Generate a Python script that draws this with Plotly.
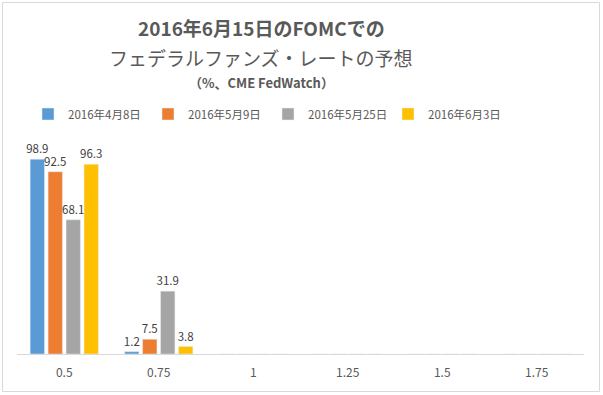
import plotly.graph_objects as go

categories = ["0.5", "0.75", "1", "1.25", "1.5", "1.75"]
series_names = ["2016年4月8日", "2016年5月9日", "2016年5月25日", "2016年6月3日"]
apr8 = [98.9, 1.2, 0, 0, 0, 0]
may9 = [92.5, 7.5, 0, 0, 0, 0]
may25 = [68.1, 31.9, 0, 0, 0, 0]
jun3 = [96.3, 3.8, 0, 0, 0, 0]
colors = ["#5B9BD5", "#ED7D31", "#A5A5A5", "#FFC000"]

FONT = "Noto Sans CJK JP, Noto Sans, sans-serif"

fig = go.Figure()
for name, vals, c in zip(series_names, [apr8, may9, may25, jun3], colors):
    fig.add_trace(go.Bar(
        x=categories, y=vals, name=name, marker_color=c,
        text=[f"{v:.1f}" if v > 0 else "" for v in vals],
        textposition="outside", cliponaxis=False, constraintext="none",
        textfont=dict(size=11.5, color="#404040", family=FONT),
    ))

W, H = 603, 395
L, R, T, B = 17, 19, 157, 41
pw, ph = W - L - R, H - T - B

def px_x(p):
    return (p - L) / pw

def px_y(p):
    return (H - B - p) / ph

fig.update_layout(
    width=W, height=H,
    margin=dict(l=L, r=R, t=T, b=B),
    paper_bgcolor="white", plot_bgcolor="white",
    font=dict(family=FONT, color="#595959"),
    barmode="group", bargap=0.24, bargroupgap=0.2,
    showlegend=True,
    legend=dict(orientation="h", x=px_x(28), xanchor="left", y=px_y(114), yanchor="middle",
                font=dict(size=11.5, color="#595959", family=FONT),
                itemwidth=30, traceorder="normal", entrywidth=75, entrywidthmode="pixels"),
    xaxis=dict(showline=True, linecolor="#D9D9D9", linewidth=1, ticks="",
               ticklabelstandoff=8,
               tickfont=dict(size=12, color="#595959"), showgrid=False),
    yaxis=dict(visible=False, range=[0, 100], showgrid=False),
)

TX = px_x(261)
fig.add_annotation(text="<b>2016年6月15日のFOMCでの</b>", xref="paper", yref="paper",
                   x=TX, y=px_y(28), xanchor="center", yanchor="middle", showarrow=False,
                   font=dict(size=19, color="#595959", family=FONT))
fig.add_annotation(text="フェデラルファンズ・レートの予想", xref="paper", yref="paper",
                   x=TX, y=px_y(57), xanchor="center", yanchor="middle", showarrow=False,
                   font=dict(size=19, color="#595959", family=FONT))
fig.add_annotation(text="<b>（%、CME FedWatch）</b>", xref="paper", yref="paper",
                   x=TX, y=px_y(82), xanchor="center", yanchor="middle", showarrow=False,
                   font=dict(size=13, color="#595959", family=FONT))

fig.add_shape(type="rect", xref="paper", yref="paper",
              x0=px_x(2.5), x1=px_x(599.5), y0=px_y(391.5), y1=px_y(2.5),
              line=dict(color="#D9D9D9", width=1), fillcolor="rgba(0,0,0,0)", layer="below")

fig.write_html("out.html", config={"displayModeBar": False},
               post_script="document.body.style.margin='0';")
